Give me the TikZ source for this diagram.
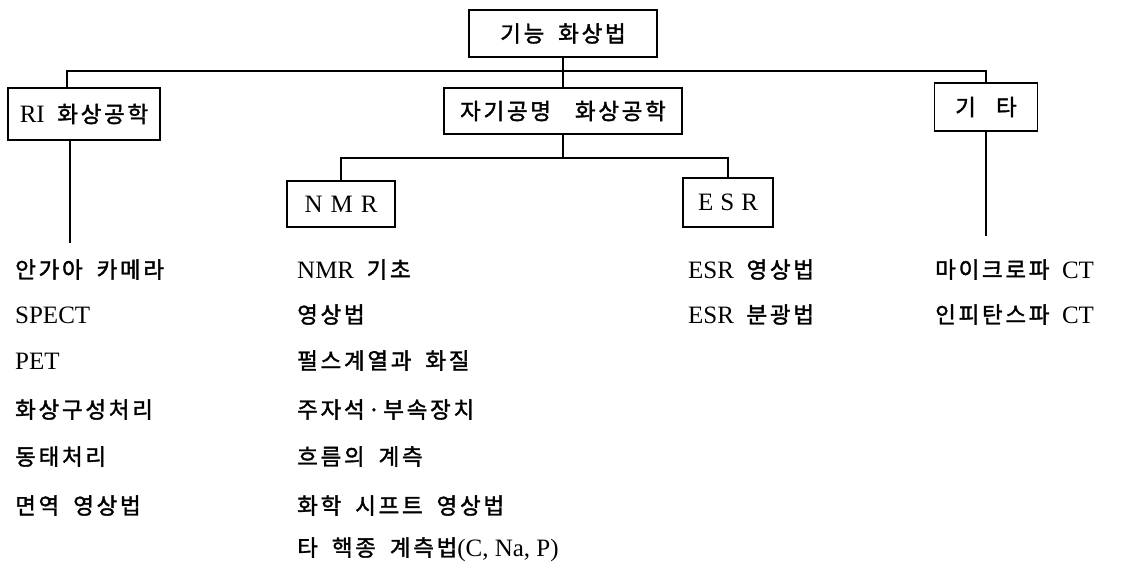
\documentclass[tikz,border=0pt]{standalone}
\usepackage{fontspec}
\setmainfont{Liberation Serif}
\newfontfamily\kr[Scale=0.9,LetterSpace=12,WordSpace=1.8,FakeBold=1.6]{Noto Sans CJK KR}
\newcommand\kgap{\hspace{0.5em}}
\tikzset{
  conn/.style={line width=1.8pt},
  box/.style={draw, line width=1.8pt, inner sep=0pt, align=center,
              font=\fontsize{25}{25}\selectfont},
  item/.style={anchor=base west, inner sep=0pt, font=\fontsize{25}{25}\selectfont},
}
\begin{document}
\begin{tikzpicture}[x=1pt,y=-1pt]
\fill[white] (0,0) rectangle (1127,566);
\useasboundingbox (0,0) rectangle (1127,566);

% boxes
\node[box, minimum width=188pt, minimum height=47pt] (top) at (563,33.5) {{\kr 기능 화상법}};
\node[box, minimum width=152pt, minimum height=52pt] (ri) at (84,114) {RI\kgap{\kr 화상공학}};
\node[box, minimum width=238pt, minimum height=46pt] (mr) at (563,111) {{\kr 자기공명\hspace{10pt} 화상공학}};
\node[box, minimum width=103pt, minimum height=48pt] (etc) at (986,107) {{\kr 기\hspace{0.9em}타}};
\node[box, minimum width=108pt, minimum height=46pt] (nmr) at (341,204) {N\hspace{8pt}M\hspace{8pt}R};
\node[box, minimum width=90pt, minimum height=49pt] (esr) at (728,202.5) {E\hspace{7pt}S\hspace{7pt}R};

% junction coordinates
\coordinate (hl) at (67,71);
\coordinate (hr) at (986,71);
\coordinate (nl) at (341,158);
\coordinate (nr) at (728,158);
\coordinate (nm) at (563,158);
\coordinate (riend) at (70,243);
\coordinate (etcend) at (986,236);

% connectors
\draw[conn] (top.south) -- (mr.north);
\draw[conn] (ri.north -| hl) -- (hl) -- (hr) -- (etc.north);
\draw[conn] (mr.south) -- (nm);
\draw[conn] (nmr.north) -- (nl) -- (nr) -- (esr.north);
\draw[conn] (ri.south -| riend) -- (riend);
\draw[conn] (etc.south) -- (etcend);

% column 1
\node[item] (a1) at (15,278) {{\kr 안가아 카메라}};
\node[item] (a2) at (15,323) {SPECT};
\node[item] (a3) at (15,369) {PET};
\node[item] (a4) at (15,418) {{\kr 화상구성처리}};
\node[item] (a5) at (15,465) {{\kr 동태처리}};
\node[item] (a6) at (15,514) {{\kr 면역 영상법}};

% NMR column
\node[item] (b1) at (297,278) {NMR\kgap{\kr 기초}};
\node[item] (b2) at (297,323) {{\kr 영상법}};
\node[item] (b3) at (297,369) {{\kr 펄스계열과 화질}};
\node[item] (b4) at (297,418) {{\kr 주자석\hspace{3pt}·\hspace{3pt}부속장치}};
\node[item] (b5) at (297,465) {{\kr 흐름의 계측}};
\node[item] (b6) at (297,514) {{\kr 화학 시프트 영상법}};
\node[item] (b7) at (297,556) {{\kr 타 핵종 계측법}(C, Na, P)};

% ESR column
\node[item] (c1) at (688,278) {ESR\kgap{\kr 영상법}};
\node[item] (c2) at (688,323) {ESR\kgap{\kr 분광법}};

% other column
\node[item] (d1) at (935,278) {{\kr 마이크로파}\kgap CT};
\node[item] (d2) at (935,323) {{\kr 인피탄스파}\kgap CT};
\end{tikzpicture}
\end{document}
